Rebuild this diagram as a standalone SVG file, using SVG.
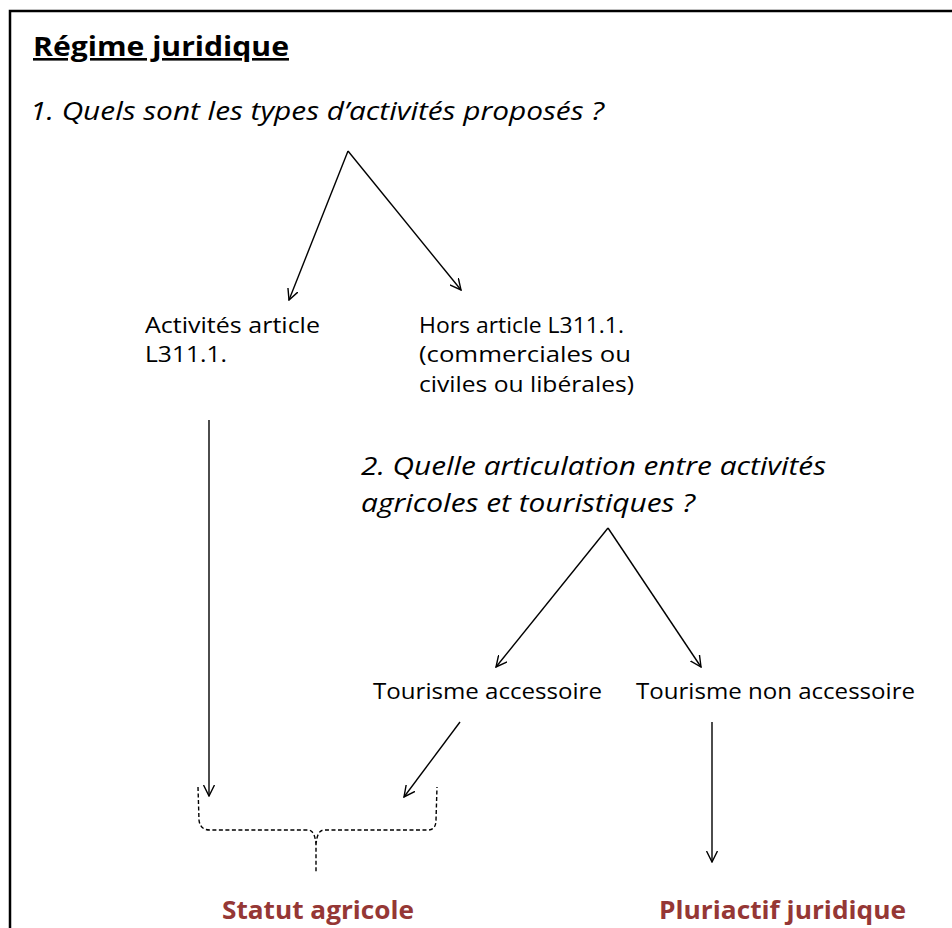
<svg xmlns="http://www.w3.org/2000/svg" width="952" height="928" viewBox="0 0 952 928">
<style>
text{font-family:"Open Sans","Noto Sans","Liberation Sans",sans-serif;fill:#000}
.q{font-style:italic;font-size:25px}
.n{font-size:21px}
.r{font-weight:bold;font-size:25px;fill:#953735}
.c{stroke:#000;stroke-width:1.4;fill:none}
</style>
<defs>
<marker id="ah" viewBox="0 0 12 12" refX="11" refY="6" markerWidth="12" markerHeight="12" markerUnits="userSpaceOnUse" orient="auto">
<polyline points="0,0.5 11,6 0,11.5" fill="none" stroke="#000" stroke-width="1.4"/>
</marker>
</defs>
<rect x="10" y="11" width="960" height="940" fill="#fff" stroke="#000" stroke-width="2.5"/>
<g id="title"><text x="33" y="56" font-size="26" font-weight="bold" text-decoration="underline" textLength="256" lengthAdjust="spacingAndGlyphs">Régime juridique</text></g>
<g id="q1"><text class="q" x="30" y="120" textLength="574" lengthAdjust="spacingAndGlyphs">1. Quels sont les types d’activités proposés ?</text></g>
<g id="n-art"><text class="n" x="145" y="333" textLength="175" lengthAdjust="spacingAndGlyphs">Activités article</text><text class="n" x="145" y="362" textLength="82" lengthAdjust="spacingAndGlyphs">L311.1.</text></g>
<g id="n-hors"><text class="n" x="419" y="333" textLength="205" lengthAdjust="spacingAndGlyphs">Hors article L311.1.</text><text class="n" x="419" y="362" textLength="212" lengthAdjust="spacingAndGlyphs">(commerciales ou</text><text class="n" x="419" y="392" textLength="215" lengthAdjust="spacingAndGlyphs">civiles ou libérales)</text></g>
<g id="q2"><text class="q" x="361" y="475" textLength="465" lengthAdjust="spacingAndGlyphs">2. Quelle articulation entre activités</text><text class="q" x="361" y="512" textLength="334" lengthAdjust="spacingAndGlyphs">agricoles et touristiques ?</text></g>
<g id="n-acc"><text class="n" x="373" y="699" textLength="229" lengthAdjust="spacingAndGlyphs">Tourisme accessoire</text></g>
<g id="n-nonacc"><text class="n" x="636" y="699" textLength="279" lengthAdjust="spacingAndGlyphs">Tourisme non accessoire</text></g>
<g id="n-statut"><text class="r" x="222" y="919" textLength="192" lengthAdjust="spacingAndGlyphs">Statut agricole</text></g>
<g id="n-pluri"><text class="r" x="659" y="919" textLength="247" lengthAdjust="spacingAndGlyphs">Pluriactif juridique</text></g>
<g id="connectors">
<line class="c" x1="348" y1="151" x2="289" y2="300" marker-end="url(#ah)"/>
<line class="c" x1="348" y1="151" x2="461" y2="290" marker-end="url(#ah)"/>
<line class="c" x1="608" y1="528" x2="496" y2="667" marker-end="url(#ah)"/>
<line class="c" x1="608" y1="528" x2="701" y2="667" marker-end="url(#ah)"/>
<line class="c" x1="209" y1="420" x2="209" y2="796" marker-end="url(#ah)"/>
<line class="c" x1="460" y1="722" x2="404" y2="797" marker-end="url(#ah)"/>
<line class="c" x1="712" y1="722" x2="712" y2="862" marker-end="url(#ah)"/>
<path class="c" stroke-dasharray="4,2.5" d="M198,787 L199,820 Q200,830 210,830 L308,830 Q315,830 316,845 L316,873 M316,845 Q317,830 324,830 L428,830 Q436,830 436,820 L437,787"/>
</g>
</svg>
